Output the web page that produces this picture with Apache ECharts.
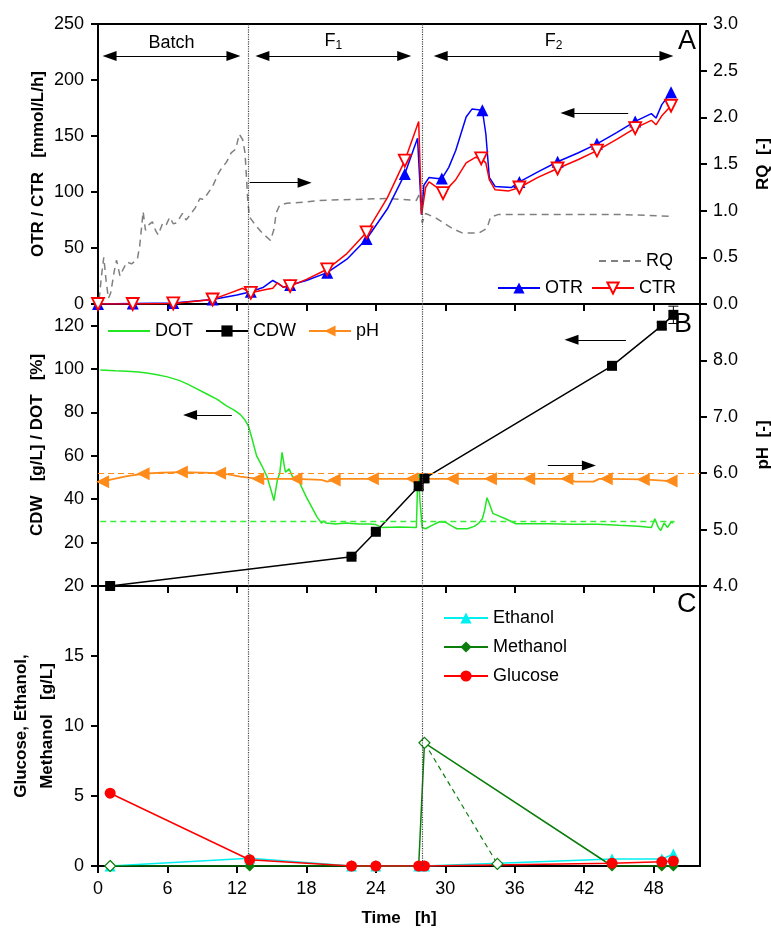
<!DOCTYPE html>
<html>
<head>
<meta charset="utf-8">
<script src="https://cdn.jsdelivr.net/npm/echarts@6/dist/echarts.min.js"></script>
<style>
html, body { margin: 0; padding: 0; background: #fff; }
#chart { width: 771px; height: 933px; }
</style>
</head>
<body>
<div id="chart"></div>
<script>
// ---- panel A : OTR / CTR [mmol/L/h], RQ [-]
var otrData = [[0,0],[3,0.5],[6.5,1],[9.9,4],[12,8],[13.2,11],[14.3,15],[15.1,21],[15.6,18],[16,15],[16.6,17],[18,21],[19.8,28],[21.5,40],[23.2,58],[25,85],[26.5,116],[27.6,148],[27.95,80],[28.15,106],[28.6,113],[29.3,112],[29.7,112],[30.3,122],[30.9,137],[31.8,167],[32.3,174],[33.2,173],[33.5,152],[33.8,113],[34.3,105],[35.7,104],[36.4,109],[38,118],[39.7,127],[41.5,135],[43.1,143],[44.8,153],[46.4,163],[47.8,170],[48.2,166],[48.7,178],[49.5,189]];
var otrMarks = [0,3,6.5,9.9,13.2,16.6,19.8,23.2,26.5,29.7,33.2,36.4,39.7,43.1,46.4,49.5];
var ctrData = [[0,0],[3,0],[6.5,0.5],[9.9,4],[11.2,9],[12.5,14],[13.2,10],[14.5,13],[15.1,14],[15.5,19],[16,15],[16.6,16],[18,22],[19.8,31],[21.5,45],[23.2,64],[25,95],[26.5,128],[27.7,163],[27.95,80],[28.3,104],[28.6,109],[29.3,104],[29.8,99],[30.9,111],[31.8,126],[32.6,131],[33.1,130],[33.5,126],[33.8,111],[34.3,102],[35.5,101],[36.4,104],[38,113],[39.7,121],[41.5,129],[43.1,137],[44.8,147],[46.4,157],[47.8,164],[48.2,160],[48.7,168],[49.5,177]];
var ctrMarks = [0,3,6.5,9.9,13.2,16.6,19.8,23.2,26.5,29.8,33.1,36.4,39.7,43.1,46.4,49.5];
var rqData = [[0.1,0.05],[0.3,0.3],[0.5,0.5],[0.7,0.25],[0.9,0.06],[1.1,0.12],[1.4,0.35],[1.6,0.47],[1.9,0.3],[2.2,0.38],[2.5,0.45],[2.9,0.43],[3.4,0.48],[3.6,0.62],[3.9,0.99],[4.1,0.79],[4.4,0.85],[4.7,0.88],[5.0,0.78],[5.2,0.74],[5.6,0.87],[5.9,0.85],[6.2,0.93],[6.5,0.86],[6.8,0.87],[7.3,0.97],[7.6,0.9],[7.8,0.93],[8.4,1.03],[8.8,1.13],[9.1,1.12],[9.4,1.17],[9.9,1.26],[10.4,1.4],[10.7,1.46],[11.1,1.52],[11.5,1.62],[11.9,1.66],[12.2,1.82],[12.5,1.76],[12.7,1.62],[12.85,1.3],[12.95,1.08],[13.1,0.93],[13.7,0.83],[14.2,0.76],[14.9,0.68],[15.2,0.8],[15.4,0.98],[15.7,1.06],[16.3,1.08],[17.7,1.09],[19.1,1.11],[22,1.12],[24.9,1.13],[27.5,1.11],[27.8,1.19],[28,0.87],[28.3,0.97],[29.2,0.92],[30.6,0.81],[31.5,0.76],[32.9,0.76],[33.6,0.81],[33.9,0.93],[34.6,0.96],[40,0.96],[45,0.96],[49.3,0.94]];

// ---- panel B : CDW [g/L] / DOT [%], pH [-]
var dotData = [[0.2,99.6],[1.5,99.2],[2.5,99],[3.5,98.6],[4.2,98.2],[5,97.5],[6,96.4],[7,94.8],[7.7,93.2],[8.5,91],[9.4,88.5],[10.3,86],[11.1,83],[11.8,81],[12.3,79],[12.7,76.5],[13,73.7],[13.3,68],[13.7,60],[14.1,56],[14.6,50.5],[14.9,45],[15.2,39.4],[15.5,49],[15.7,52],[15.9,61.6],[16.1,55],[16.2,52.4],[16.5,54],[16.8,50.5],[17.4,47.7],[18,41],[18.5,36],[18.9,32],[19.3,29],[19.5,30],[19.7,29],[20.5,28.6],[21.4,29],[22.5,28.6],[23.5,28.6],[24,28.3],[24.5,27],[26,27.2],[27.5,27],[27.6,46],[27.7,51.5],[27.8,40],[28,27],[28.3,26.4],[28.8,27.8],[29.5,29.6],[30,29.4],[30.5,27.8],[31,26.4],[31.9,26.4],[32.5,27.5],[32.9,29],[33.2,31],[33.4,35],[33.6,40.7],[33.8,38],[34.1,33.5],[34.3,33],[35.2,31],[36.1,28.7],[38.9,28.7],[41,28.5],[43.2,28.5],[45,28],[46.7,27.6],[47.8,27],[48.1,31],[48.4,27],[48.6,25.5],[48.9,29],[49.2,27],[49.5,29.5],[49.7,29]];
var cdwData = [[1.05,0],[21.9,13.5],[24,25],[27.7,46],[28.2,49.6],[44.4,101.5],[48.7,120],[49.7,125]];
var cdwErr = [0.3,0.5,1,1.5,1.5,1,1.5,4];
var phData = [[0.2,5.84],[0.4,5.85],[1,5.88],[2.5,5.95],[3.9,5.99],[5.5,6.01],[7.2,6.02],[9,6.01],[10.5,6.0],[11.5,5.97],[12.3,5.94],[13,5.92],[13.8,5.9],[17.1,5.9],[19.3,5.88],[19.8,5.85],[20.4,5.88],[21,5.9],[23.7,5.9],[27.1,5.9],[30.6,5.9],[33.9,5.9],[37.2,5.9],[40.5,5.9],[41.2,5.85],[42.8,5.85],[43.3,5.9],[43.9,5.9],[47.1,5.89],[49.5,5.86]];
var phMarks = [0.4,3.9,7.2,10.5,13.8,17.1,20.4,23.7,27.1,30.6,33.9,37.2,40.5,43.9,47.1,49.5];
var dotSetpoint = 30;
var phSetpoint = 6;

// ---- panel C : Glucose, Ethanol, Methanol [g/L]
var sampleTime = [1.05,13.1,21.9,24,27.7,28.2,44.4,48.7,49.7];
var ethanol  = [0,0.55,0,0,0,0,0.5,0.5,0.85];
var methanol = [0,0,0,0,0,8.8,0,0,0];
var glucose  = [5.2,0.45,0,0,0,0,0.2,0.3,0.35];
var methanolPulse = [[1.05,0],[20,'-'],[28.2,8.8],[34.5,0.15]];

// phases / annotations (data coordinates)
var phaseLines = [13, 28];
var phases = [['Batch',1.0,11.7],['F{s|1}',14.2,26.45],['F{s|2}',29.6,49.1]];

var FONT = 'Liberation Sans, Arial, sans-serif';
var chart = echarts.init(document.getElementById('chart'));

function withMarks(data, marks) {
    return data.map(function (p) {
        return marks.indexOf(p[0]) >= 0 ? { value: p } : { value: p, symbol: 'none' };
    });
}
function pairs(ys) {
    return sampleTime.map(function (t, i) { return [t, ys[i]]; });
}
function arrow(t1, t2, y, both) {
    return [
        { coord: [t1, y], symbol: both ? 'triangle' : 'none', symbolSize: [10, 14] },
        { coord: [t2, y], symbol: 'triangle', symbolSize: [10, 14] }
    ];
}
function markLines(style, data) {
    return { silent: true, symbol: ['none', 'none'], label: { show: false }, lineStyle: style, data: data };
}
var blackLine = { color: '#000', type: 'solid', width: 1.2 };
function phaseSeries(i) {
    return {
        type: 'line', xAxisIndex: i, yAxisIndex: [0, 2, 4][i], data: [],
        markLine: markLines({ color: '#444', type: 'dotted', width: 1.2 },
            phaseLines.map(function (t) { return { xAxis: t }; }))
    };
}

var grids = [
    { left: 98, width: 602, top: 24, height: 280 },
    { left: 98, width: 602, top: 304, height: 282 },
    { left: 98, width: 602, top: 586, height: 280 }
];
grids.forEach(function (g) {
    g.show = true; g.borderColor = '#000'; g.borderWidth = 2;
    g.containLabel = false; g.outerBoundsMode = 'none';
});

function xAx(i) {
    return {
        type: 'value', gridIndex: i, min: 0, max: 52, interval: 6,
        axisLine: { show: false },
        axisTick: { show: true, length: 7, lineStyle: { color: '#000', width: 2 } },
        axisLabel: { show: i === 2, fontSize: 18, color: '#000', fontFamily: FONT, margin: 14, showMaxLabel: false },
        splitLine: { show: false },
        name: i === 2 ? 'Time   [h]' : '', nameLocation: 'middle', nameGap: 44, nameMoveOverlap: false,
        nameTextStyle: { fontSize: 17, fontWeight: 'bold', color: '#000', fontFamily: FONT }
    };
}
function yAx(o) {
    return {
        type: 'value', gridIndex: o.grid, position: o.pos, min: o.min, max: o.max, interval: o.interval,
        axisLine: { show: false },
        axisTick: { show: true, length: 7, lineStyle: { color: '#000', width: 2 } },
        axisLabel: {
            fontSize: 18, color: '#000', fontFamily: FONT, margin: o.pos === 'left' ? 14 : 13,
            showMinLabel: o.showMin !== false, showMaxLabel: o.showMax !== false,
            formatter: o.fmt
        },
        splitLine: { show: false },
        name: o.name || '', nameLocation: 'middle', nameGap: o.gap, nameRotate: 90, nameMoveOverlap: false,
        nameTextStyle: { fontSize: 17, fontWeight: 'bold', color: '#000', fontFamily: FONT, lineHeight: 26 }
    };
}
function fix1(v) { return v.toFixed(1); }
var legendText = { fontSize: 18, color: '#000', fontFamily: FONT };
var noSymbol = { opacity: 0 };

var option = {
    animation: false,
    backgroundColor: '#fff',
    textStyle: { fontFamily: FONT },
    grid: grids,
    xAxis: [xAx(0), xAx(1), xAx(2)],
    yAxis: [
        yAx({ grid: 0, pos: 'left', min: 0, max: 250, interval: 50, name: 'OTR / CTR   [mmol/L/h]', gap: 47 }),
        yAx({ grid: 0, pos: 'right', min: 0, max: 3, interval: 0.5, fmt: fix1, name: 'RQ  [-]', gap: 50 }),
        yAx({ grid: 1, pos: 'left', min: 0, max: 130, interval: 20, showMin: false, showMax: false, name: 'CDW   [g/L] / DOT   [%]', gap: 48 }),
        yAx({ grid: 1, pos: 'right', min: 4, max: 9, interval: 1, fmt: fix1, showMax: false, name: 'pH  [-]', gap: 50 }),
        yAx({ grid: 2, pos: 'left', min: 0, max: 20, interval: 5, name: 'Glucose, Ethanol,\nMethanol   [g/L]', gap: 38 })
    ],
    legend: [
        { data: [{ name: 'RQ', itemStyle: noSymbol }], left: 593, top: 247, itemWidth: 42, itemHeight: 14, textStyle: legendText },
        { data: ['OTR', 'CTR'], left: 492, top: 274, itemGap: 8, itemWidth: 42, itemHeight: 14, textStyle: legendText },
        { data: [{ name: 'DOT', itemStyle: noSymbol }, 'CDW', 'pH'], left: 102, top: 317, itemGap: 12, itemWidth: 42, itemHeight: 14, textStyle: legendText },
        { data: ['Ethanol', 'Methanol', 'Glucose'], orient: 'vertical', left: 438, top: 604, itemGap: 11, itemWidth: 44, itemHeight: 14, textStyle: legendText }
    ],
    graphic: [
        { type: 'text', left: 678, top: 28, style: { text: 'A', fontSize: 27, fill: '#000', fontFamily: FONT } },
        { type: 'text', left: 674, top: 311, style: { text: 'B', fontSize: 27, fill: '#000', fontFamily: FONT } },
        { type: 'text', left: 677, top: 591, style: { text: 'C', fontSize: 27, fill: '#000', fontFamily: FONT } }
    ],
    series: [
        phaseSeries(0), phaseSeries(1), phaseSeries(2),
        {
            name: 'RQ', type: 'line', xAxisIndex: 0, yAxisIndex: 1, data: rqData, showSymbol: false, symbol: 'none',
            lineStyle: { color: '#808080', width: 1.5, type: [7, 5] }, itemStyle: { color: '#808080' },
            markLine: markLines(blackLine, [arrow(13.1, 17.85, 1.30, false)])
        },
        {
            name: 'OTR', type: 'line', xAxisIndex: 0, yAxisIndex: 0, data: withMarks(otrData, otrMarks),
            symbol: 'triangle', symbolSize: 12, lineStyle: { color: '#0000ff', width: 1.5 }, itemStyle: { color: '#0000ff' },
            markLine: markLines(blackLine, [arrow(45.8, 40.55, 170.5, false)].concat(phases.map(function (p) {
                var a = arrow(p[1], p[2], 221.4, true);
                a[0].label = {
                    show: true, position: 'insideMiddleTop', distance: 4, formatter: p[0],
                    fontSize: 18, color: '#000', fontFamily: FONT,
                    rich: { s: { fontSize: 12, verticalAlign: 'bottom', padding: [10, 0, 0, 0], fontFamily: FONT } }
                };
                return a;
            })))
        },
        {
            name: 'CTR', type: 'line', xAxisIndex: 0, yAxisIndex: 0, data: withMarks(ctrData, ctrMarks),
            symbol: 'triangle', symbolRotate: 180, symbolSize: 12, lineStyle: { color: '#ff0000', width: 1.5 },
            itemStyle: { color: '#ffffff', borderColor: '#ff0000', borderWidth: 1.8 }
        },
        {
            name: 'DOT', type: 'line', xAxisIndex: 1, yAxisIndex: 2, data: dotData, symbol: 'none', showSymbol: false,
            lineStyle: { color: '#22e622', width: 1.5 }, itemStyle: { color: '#22e622' },
            markLine: markLines({ color: '#3aee3a', type: [6, 4], width: 1.3 },
                [[{ coord: [0.2, dotSetpoint] }, { coord: [49.8, dotSetpoint] }]])
        },
        {
            name: 'CDW', type: 'line', xAxisIndex: 1, yAxisIndex: 2, data: cdwData, symbol: 'rect', symbolSize: 10,
            lineStyle: { color: '#000', width: 1.5 }, itemStyle: { color: '#000' }, z: 4,
            markLine: markLines(blackLine, [
                arrow(11.56, 7.95, 78.8, false),
                arrow(45.6, 40.9, 113.5, false),
                arrow(38.85, 42.4, 55.6, false)
            ])
        },
        {
            type: 'custom', xAxisIndex: 1, yAxisIndex: 2, z: 3,
            data: cdwData.map(function (p, i) { return [p[0], p[1] - cdwErr[i], p[1] + cdwErr[i]]; }),
            encode: { x: 0, y: [1, 2] },
            renderItem: function (params, api) {
                var lo = api.coord([api.value(0), api.value(1)]);
                var hi = api.coord([api.value(0), api.value(2)]);
                var st = { stroke: '#000', lineWidth: 1 };
                return { type: 'group', children: [
                    { type: 'line', shape: { x1: lo[0], y1: lo[1], x2: hi[0], y2: hi[1] }, style: st },
                    { type: 'line', shape: { x1: lo[0] - 5, y1: lo[1], x2: lo[0] + 5, y2: lo[1] }, style: st },
                    { type: 'line', shape: { x1: hi[0] - 5, y1: hi[1], x2: hi[0] + 5, y2: hi[1] }, style: st }
                ] };
            }
        },
        {
            name: 'pH', type: 'line', xAxisIndex: 1, yAxisIndex: 3, data: withMarks(phData, phMarks),
            symbol: 'triangle', symbolRotate: 90, symbolSize: 13, lineStyle: { color: '#ff8c1a', width: 1.8 }, itemStyle: { color: '#ff8c1a' },
            markLine: markLines({ color: '#ff8c1a', type: [6, 4], width: 1.2 }, [{ yAxis: phSetpoint }])
        },
        {
            name: 'Ethanol', type: 'line', xAxisIndex: 2, yAxisIndex: 4, data: pairs(ethanol), symbol: 'triangle', symbolSize: 11,
            lineStyle: { color: '#00f0f0', width: 1.5 }, itemStyle: { color: '#00f0f0' }
        },
        {
            name: 'Methanol', type: 'line', xAxisIndex: 2, yAxisIndex: 4, data: pairs(methanol), symbol: 'diamond', symbolSize: 11,
            lineStyle: { color: '#0a7d0a', width: 1.5 }, itemStyle: { color: '#0a7d0a' }
        },
        {
            type: 'line', xAxisIndex: 2, yAxisIndex: 4, data: methanolPulse, symbol: 'diamond', symbolSize: 11,
            lineStyle: { color: '#0a7d0a', width: 1.2, type: [5, 4] },
            itemStyle: { color: '#ffffff', borderColor: '#0a7d0a', borderWidth: 1.2 }
        },
        {
            name: 'Glucose', type: 'line', xAxisIndex: 2, yAxisIndex: 4, data: pairs(glucose), symbol: 'circle', symbolSize: 11,
            lineStyle: { color: '#ff0000', width: 1.5 }, itemStyle: { color: '#ff0000' }
        }
    ]
};
chart.setOption(option);
window.addEventListener('resize', function () {
    chart.resize();
});
</script>
</body>
</html>
